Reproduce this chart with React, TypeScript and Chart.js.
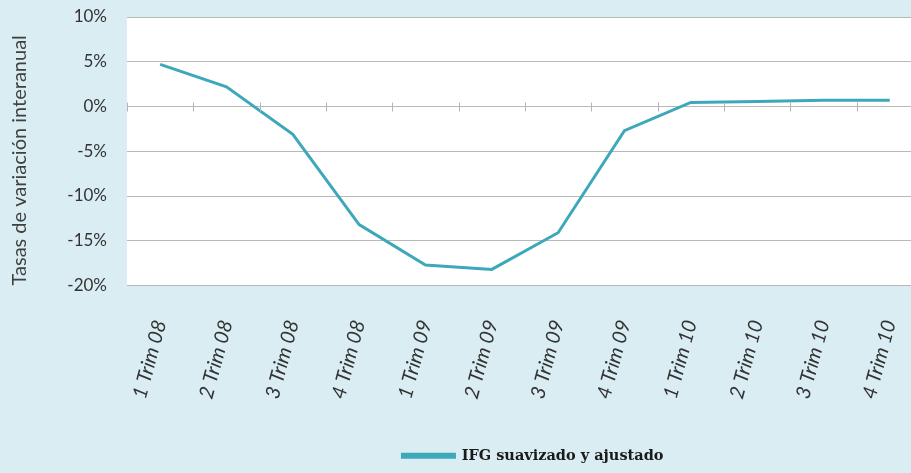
import React, { useEffect, useRef } from "react";
import { Chart, registerables } from "chart.js";

Chart.register(...registerables);

const categories = [
  "1 Trim 08", "2 Trim 08", "3 Trim 08", "4 Trim 08",
  "1 Trim 09", "2 Trim 09", "3 Trim 09", "4 Trim 09",
  "1 Trim 10", "2 Trim 10", "3 Trim 10", "4 Trim 10",
];
const ifgValues = [4.7, 2.2, -3.1, -13.2, -17.7, -18.2, -14.1, -2.7, 0.45, 0.55, 0.7, 0.7];
const seriesLabel = "IFG suavizado y ajustado";
const yTitle = "Tasas de variación interanual";
const yMin = -20;
const yMax = 10;
const yStep = 5;

const LINE = "#3ea8bb";
const BG = "#d9edf3";

const plotBg = {
  id: "plotBg",
  beforeDraw(chart: any) {
    const { ctx, chartArea } = chart;
    ctx.save();
    ctx.fillStyle = "#ffffff";
    ctx.fillRect(chartArea.left, chartArea.top, chartArea.right - chartArea.left, chartArea.bottom - chartArea.top);
    ctx.restore();
  },
};

const zeroTicks = {
  id: "zeroTicks",
  afterDatasetsDraw(chart: any) {
    const { ctx } = chart;
    const x = chart.scales.x;
    const y = chart.scales.y;
    const y0 = y.getPixelForValue(0);
    ctx.save();
    ctx.strokeStyle = "#b5b5b5";
    ctx.lineWidth = 1;
    for (let i = 0; i <= categories.length; i++) {
      const px = Math.round(x.getPixelForValue(i - 0.5)) + 0.5;
      ctx.beginPath();
      ctx.moveTo(px, y0 - 4);
      ctx.lineTo(px, y0 + 5);
      ctx.stroke();
    }
    ctx.restore();
  },
};

const legendShift = {
  id: "legendShift",
  afterLayout(chart: any) {
    const lg = chart.legend;
    if (lg) {
      lg.left += 8;
      lg.right += 8;
    }
  },
};

export default function App() {
  const ref = useRef<HTMLCanvasElement | null>(null);
  useEffect(() => {
    if (!ref.current) return;
    const chart = new Chart(ref.current, {
      type: "line",
      data: {
        labels: categories,
        datasets: [
          {
            label: seriesLabel,
            data: ifgValues,
            borderColor: LINE,
            backgroundColor: LINE,
            borderWidth: 3,
            pointRadius: 0,
            tension: 0,
          },
        ],
      },
      options: {
        animation: false,
        responsive: false,
        layout: { padding: { top: 17, left: 0, right: 2, bottom: 0 } },
        scales: {
          x: {
            offset: true,
            grid: { display: false, offset: true },
            border: { display: false },
            afterFit: (s: any) => { s.height = 157; },
            ticks: {
              minRotation: 75,
              maxRotation: 75,
              padding: 24,
              color: "#333333",
              font: { family: "Lato", size: 20, style: "italic" },
            },
          },
          y: {
            min: yMin,
            max: yMax,
            afterFit: (s: any) => {
              s.width = 127;
              s.paddingTop = 0;
              s.paddingBottom = 0;
            },
            border: { display: false },
            grid: { color: "#b8b8b8", lineWidth: 1, drawTicks: false },
            ticks: {
              stepSize: yStep,
              padding: 20,
              color: "#333333",
              font: { family: "Lato", size: 17 },
              callback: (v: any) => `${v}%`,
            },
            title: {
              display: true,
              text: yTitle,
              align: "start",
              color: "#404040",
              font: { family: "Lato", size: 20 },
              padding: { top: 8, bottom: 0 },
            },
          },
        },
        plugins: {
          legend: {
            position: "bottom",
            fullSize: false,
            labels: {
              boxWidth: 52,
              boxHeight: 3,
              padding: 6,
              color: "#1a1a1a",
              font: { family: "DejaVu Serif", size: 14.5, weight: "bold" },
            },
          },
          tooltip: { enabled: false },
        },
      },
      plugins: [plotBg, zeroTicks, legendShift],
    });
    return () => chart.destroy();
  }, []);
  return (
    <div style={{ position: "fixed", left: 0, top: 0, width: 911, height: 473, overflow: "hidden", background: BG }}>
      <canvas ref={ref} width={937} height={473} style={{ display: "block" }} />
    </div>
  );
}
